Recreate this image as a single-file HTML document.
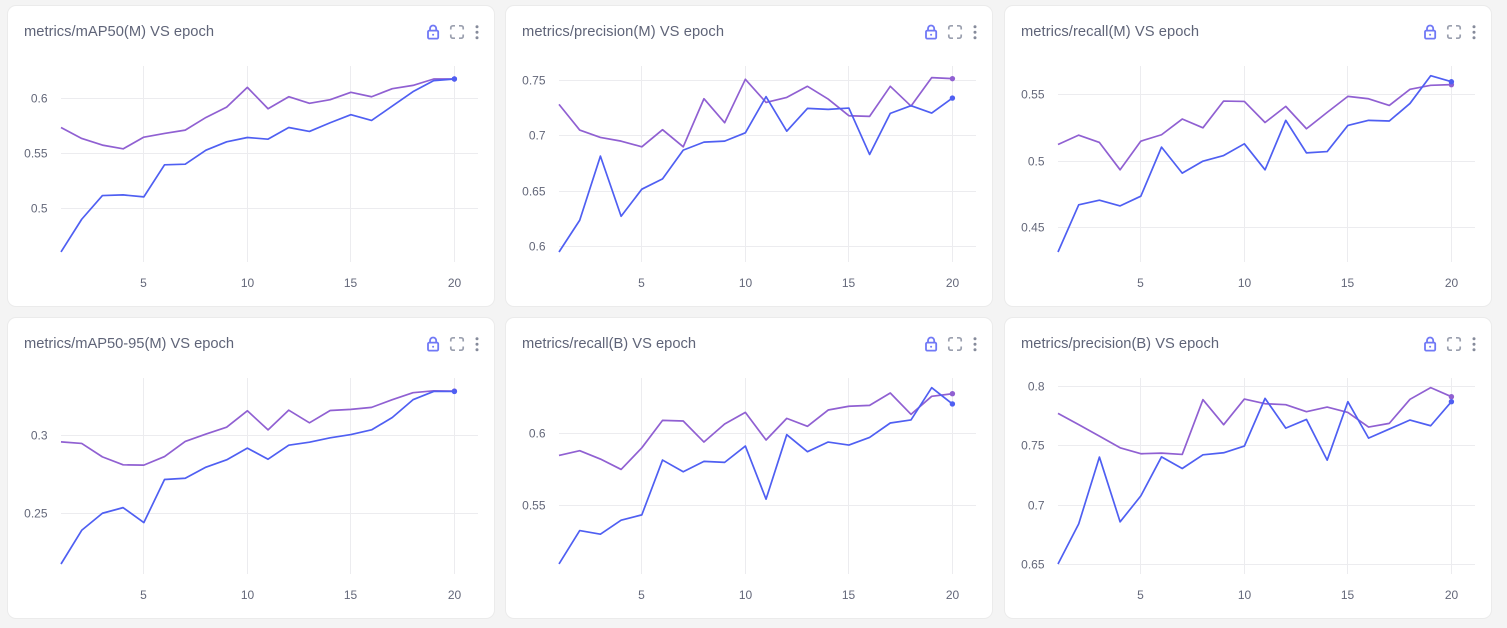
<!DOCTYPE html>
<html lang="en">
<head>
<meta charset="utf-8">
<title>Training metrics</title>
<style>
html,body{margin:0;padding:0;background:#f4f4f4;}
body{position:relative;width:1507px;height:628px;overflow:hidden;font-family:"Liberation Sans",sans-serif;}
.card{position:absolute;width:486px;height:300px;background:#fff;border-radius:8px;box-shadow:0 0 0 1px #ebebeb;}
.card svg{display:block;position:absolute;left:0;top:0;filter:blur(0.3px);}
.title{font-size:14.7px;fill:#5f6478;}
.tick{font-size:12px;fill:#636779;}
</style>
</head>
<body>

<div class="card" style="left:8px;top:6px">
<svg id="c1" width="486" height="300">
<text class="title" x="16" y="30" textLength="190" lengthAdjust="spacing">metrics/mAP50(M) VS epoch</text>
</svg></div>

<div class="card" style="left:506px;top:6px">
<svg id="c2" width="486" height="300">
<text class="title" x="16" y="30" textLength="202" lengthAdjust="spacing">metrics/precision(M) VS epoch</text>
</svg></div>

<div class="card" style="left:1005px;top:6px">
<svg id="c3" width="486" height="300">
<text class="title" x="16" y="30" textLength="178" lengthAdjust="spacing">metrics/recall(M) VS epoch</text>
</svg></div>

<div class="card" style="left:8px;top:318px">
<svg id="c4" width="486" height="300">
<text class="title" x="16" y="30" textLength="210" lengthAdjust="spacing">metrics/mAP50-95(M) VS epoch</text>
</svg></div>

<div class="card" style="left:506px;top:318px">
<svg id="c5" width="486" height="300">
<text class="title" x="16" y="30" textLength="174" lengthAdjust="spacing">metrics/recall(B) VS epoch</text>
</svg></div>

<div class="card" style="left:1005px;top:318px">
<svg id="c6" width="486" height="300">
<text class="title" x="16" y="30" textLength="198" lengthAdjust="spacing">metrics/precision(B) VS epoch</text>
</svg></div>

<script>
const epochs = [1,2,3,4,5,6,7,8,9,10,11,12,13,14,15,16,17,18,19,20];
const xTickLabels = [5,10,15,20];

const map50Domain = [0.4515,0.6294];
const map50Ticks = [0.5,0.55,0.6];
const map50Blue = [.4606,.4903,.5118,.5124,.5106,.5397,.5403,.5530,.5606,.5645,.5630,.5736,.5700,.5779,.5852,.5800,.5930,.6061,.6161,.6176];
const map50Purple = [.5736,.5636,.5576,.5542,.5648,.5682,.5712,.5827,.5921,.6100,.5906,.6015,.5955,.5988,.6055,.6015,.6088,.6118,.6176,.6176];

const precMDomain = [0.5863,0.7629];
const precMTicks = [0.6,0.65,0.7,0.75];
const precMBlue = [.5953,.6239,.6817,.6275,.6519,.6612,.6871,.6943,.6952,.7027,.7353,.7042,.7247,.7238,.7250,.6832,.7202,.7271,.7205,.7340];
const precMPurple = [.7283,.7052,.6985,.6952,.6901,.7055,.6901,.7334,.7118,.7509,.7301,.7346,.7446,.7331,.7181,.7175,.7446,.7268,.7524,.7515];

const recallMDomain = [0.4242,0.5713];
const recallMTicks = [0.45,0.5,0.55];
const recallMBlue = [.4317,.4671,.4706,.4663,.4736,.5104,.4909,.4999,.5041,.5129,.4934,.5305,.5061,.5071,.5267,.5305,.5300,.5432,.5640,.5595];
const recallMPurple = [.5124,.5194,.5139,.4934,.5149,.5197,.5315,.5249,.5450,.5447,.5289,.5410,.5242,.5365,.5485,.5467,.5417,.5538,.5568,.5573];

const map95Domain = [0.2113,0.3368];
const map95Ticks = [0.25,0.3];
const map95Blue = [.2177,.2393,.2502,.2538,.2442,.2718,.2726,.2797,.2844,.2919,.2848,.2938,.2957,.2985,.3006,.3036,.3115,.3229,.3282,.3282];
const map95Purple = [.2959,.2949,.2863,.2812,.2810,.2865,.2962,.3009,.3053,.3158,.3036,.3162,.3081,.3160,.3167,.3180,.3229,.3274,.3286,.3284];

const recallBDomain = [0.5025,0.6384];
const recallBTicks = [0.55,0.6];
const recallBBlue = [.5095,.5326,.5301,.5398,.5435,.5815,.5734,.5806,.5799,.5912,.5544,.5991,.5873,.5940,.5919,.5972,.6072,.6093,.6317,.6204];
const recallBPurple = [.5847,.5880,.5822,.5750,.5900,.6090,.6086,.5940,.6065,.6146,.5954,.6104,.6049,.6162,.6188,.6194,.6280,.6132,.6257,.6275];

const precBDomain = [0.6424,0.8070];
const precBTicks = [0.65,0.7,0.75,0.8];
const precBBlue = [.6508,.6845,.7406,.6862,.7080,.7408,.7310,.7425,.7442,.7498,.7899,.7649,.7722,.7380,.7871,.7565,.7641,.7717,.7669,.7871];
const precBPurple = [.7773,.7678,.7582,.7484,.7434,.7439,.7428,.7888,.7678,.7893,.7854,.7846,.7787,.7826,.7781,.7658,.7689,.7891,.7989,.7913];

const NS = 'http://www.w3.org/2000/svg';
const BLUE = '#4f5ff2';
const PURPLE = '#9060d2';

function mk(parent, tag, attrs) {
  const el = document.createElementNS(NS, tag);
  for (const k in attrs) el.setAttribute(k, attrs[k]);
  parent.appendChild(el);
  return el;
}

function xScale(e) { return 53 + (e - 1) * (393.4 / 19); }

function snap(v) { return Math.round(v - 0.5) + 0.5; }

function drawIcons(svg) {
  const lock = mk(svg, 'g', {fill:'none', stroke:'#7078f6', 'stroke-width':'1.8'});
  
  
  mk(lock, 'rect', {x:420, y:24.6, width:10.2, height:8, rx:1.2});
  mk(lock, 'path', {d:'M422 24.6v-2a3.1 3.1 0 0 1 6.2 0v2'});
  mk(lock, 'circle', {cx:425.1, cy:28.8, r:1, fill:'#7078f6', stroke:'none'});

  const full = mk(svg, 'g', {fill:'none', stroke:'#9a9fae', 'stroke-width':'1.7'});
  
  
  mk(full, 'path', {d:'M442.8 23.5v-1.7a2 2 0 0 1 2-2h2.2M451 19.8h2.2a2 2 0 0 1 2 2v1.7M455.2 28.5v1.7a2 2 0 0 1-2 2H451M447 32.2h-2.2a2 2 0 0 1-2-2v-1.7'});

  const more = mk(svg, 'g', {fill:'#868b9b'});
  
  
  mk(more, 'circle', {cx:469, cy:20.8, r:1.5});
  mk(more, 'circle', {cx:469, cy:26.3, r:1.5});
  mk(more, 'circle', {cx:469, cy:31.8, r:1.5});
}

function drawChart(id, domain, ticks, blue, purple) {
  const svg = document.getElementById(id);
  const top = 60, bottom = 256, right = 470;
  const yScale = v => bottom - (v - domain[0]) / (domain[1] - domain[0]) * (bottom - top);

  drawIcons(svg);

  ticks.forEach(t => {
    const y = snap(yScale(t));
    const grid = mk(svg, 'line', {x1:53, x2:right, y1:y, y2:y, stroke:'#ececef', 'stroke-width':1});
    
    
    const label = mk(svg, 'text', {x:39.5, y:y + 4, 'text-anchor':'end', class:'tick'});
    
    
    label.textContent = String(t);
  });

  xTickLabels.forEach(t => {
    const x = snap(xScale(t));
    const grid = mk(svg, 'line', {x1:x, x2:x, y1:top, y2:bottom, stroke:'#ececef', 'stroke-width':1});
    
    
    const label = mk(svg, 'text', {x:x, y:281, 'text-anchor':'middle', class:'tick'});
    
    
    label.textContent = String(t);
  });

  const series = [[purple, PURPLE, 'purple'], [blue, BLUE, 'blue']];
  series.forEach(s => {
    const vals = s[0], color = s[1], nm = s[2];
    const pts = vals.map((v, i) => xScale(epochs[i]).toFixed(2) + ',' + yScale(v).toFixed(2)).join(' ');
    const line = mk(svg, 'polyline', {points:pts, fill:'none', stroke:color, 'stroke-width':1.7, 'stroke-linejoin':'round'});
    
    
    const last = vals.length - 1;
    const dot = mk(svg, 'circle', {cx:xScale(epochs[last]), cy:yScale(vals[last]), r:2.7, fill:color});
    
    
  });
}

drawChart('c1', map50Domain, map50Ticks, map50Blue, map50Purple);
drawChart('c2', precMDomain, precMTicks, precMBlue, precMPurple);
drawChart('c3', recallMDomain, recallMTicks, recallMBlue, recallMPurple);
drawChart('c4', map95Domain, map95Ticks, map95Blue, map95Purple);
drawChart('c5', recallBDomain, recallBTicks, recallBBlue, recallBPurple);
drawChart('c6', precBDomain, precBTicks, precBBlue, precBPurple);
</script>
</body>
</html>
